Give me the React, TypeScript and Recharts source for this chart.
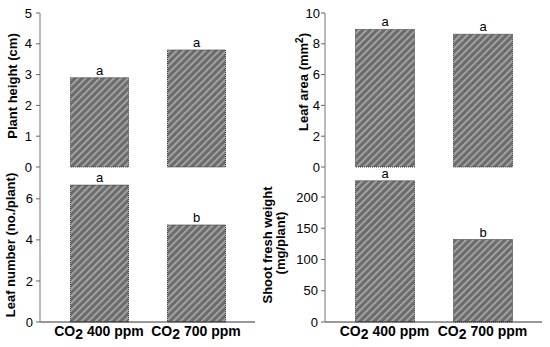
import { Bar, BarChart, LabelList, XAxis, YAxis } from "recharts";

const categories = ["CO2 400 ppm", "CO2 700 ppm"];
const plantHeight = [2.9, 3.8];
const leafArea = [8.93, 8.62];
const leafNumber = [6.67, 4.73];
const shootWeight = [226, 132];
const letterHeight = ["a", "a"];
const letterArea = ["a", "a"];
const letterNumber = ["a", "b"];
const letterWeight = ["a", "b"];

const heightTicks = [0, 1, 2, 3, 4, 5];
const areaTicks = [0, 2, 4, 6, 8, 10];
const numberTicks = [0, 2, 4, 6];
const weightTicks = [0, 50, 100, 150, 200];

const font = "'Liberation Sans', Arial, sans-serif";
const tickStyle = { fontSize: 13, fill: "#000", fontFamily: font };

function rows(values: number[], letters: string[]) {
  return categories.map((c, i) => ({ name: c, value: values[i], tag: letters[i] }));
}

function Hatch({ id }: { id: string }) {
  return (
    <defs>
      <pattern id={id} width="5" height="5" patternUnits="userSpaceOnUse" patternTransform="rotate(45)">
        <rect width="5" height="5" fill="#6c6c6c" />
        <rect width="1.7" height="5" fill="#aaaaaa" />
      </pattern>
    </defs>
  );
}

function CoTick(props: any) {
  const { x, y, payload } = props;
  const s: string = payload.value;
  return (
    <text x={x} y={y + 6} textAnchor="middle" fontFamily={font} fontWeight="bold" fontSize={14} fill="#000">
      <tspan>{s.slice(0, 2)}</tspan>
      <tspan dy={3}>{s.slice(2, 3)}</tspan>
      <tspan dy={-3}>{s.slice(3)}</tspan>
    </text>
  );
}

function Panel(props: {
  id: string;
  left: number;
  top: number;
  height: number;
  axisW: number;
  values: number[];
  letters: string[];
  ticks: number[];
  max: number;
  bottom: boolean;
  tickMargin: number;
  barSize: number;
}) {
  const data = rows(props.values, props.letters);
  return (
    <div style={{ position: "absolute", left: props.left, top: props.top }}>
      <BarChart
        width={275}
        height={props.height}
        data={data}
        margin={{ top: 13, right: props.left === 0 ? 20 : 8, bottom: props.bottom ? 0 : 8, left: 0 }}
      >
        <Hatch id={props.id} />
        <XAxis
          dataKey="name"
          xAxisId="top"
          orientation="top"
          height={0}
          tick={false}
          tickLine={false}
          padding={{ left: 10.5, right: 10.5 }}
          axisLine={props.bottom ? { stroke: "#333" } : { stroke: "#888" }}
        />
        <XAxis
          dataKey="name"
          height={props.bottom ? 25 : 0}
          tick={props.bottom ? <CoTick /> : false}
          tickLine={false}
          interval={0}
          padding={{ left: 10.5, right: 10.5 }}
          axisLine={{ stroke: "#333" }}
        />
        <YAxis
          width={props.axisW}
          domain={[0, props.max]}
          ticks={props.ticks}
          interval={0}
          tick={tickStyle}
          tickSize={4}
          tickMargin={props.tickMargin}
          tickLine={{ stroke: "#666" }}
          axisLine={{ stroke: "#777" }}
        />
        <YAxis
          yAxisId="r"
          orientation="right"
          width={0}
          domain={[0, props.max]}
          tick={false}
          tickLine={false}
          axisLine={{ stroke: "#888" }}
        />
        <Bar
          dataKey="value"
          barSize={props.barSize}
          fill={`url(#${props.id})`}
          stroke="#333"
          strokeDasharray="1 1"
          isAnimationActive={false}
        >
          <LabelList dataKey="tag" position="top" offset={3} style={{ fontSize: 13, fill: "#000", fontFamily: font }} />
        </Bar>
      </BarChart>
    </div>
  );
}

const titleStyle = { fontFamily: font, fontWeight: "bold" as const, fontSize: 13, fill: "#000" };

function Titles() {
  return (
    <svg width={550} height={347} style={{ position: "absolute", left: 0, top: 0, pointerEvents: "none" }}>
      <text x={17} y={86} transform="rotate(-90 17 86)" textAnchor="middle" {...titleStyle}>
        Plant height (cm)
      </text>
      <text x={308} y={82} transform="rotate(-90 308 82)" textAnchor="middle" {...titleStyle}>
        Leaf area (mm<tspan dy={-5} fontSize={10}>2</tspan>
        <tspan dy={5}>)</tspan>
      </text>
      <text x={15} y={245} transform="rotate(-90 15 245)" textAnchor="middle" {...titleStyle}>
        Leaf number (no./plant)
      </text>
      <text x={272} y={245} transform="rotate(-90 272 245)" textAnchor="middle" {...titleStyle}>
        Shoot fresh weight
      </text>
      <text x={285} y={243} transform="rotate(-90 285 243)" textAnchor="middle" {...titleStyle}>
        (mg/plant)
      </text>
    </svg>
  );
}

export default function App() {
  return (
    <div style={{ position: "absolute", left: 0, top: 0, width: 550, height: 347, background: "#fff" }}>
      <Panel
        id="h1"
        left={0}
        top={0}
        height={175}
        axisW={40}
        values={plantHeight}
        letters={letterHeight}
        ticks={heightTicks}
        max={5}
        bottom={false}
        tickMargin={4}
        barSize={58}
      />
      <Panel
        id="h2"
        left={275}
        top={0}
        height={175}
        axisW={50}
        values={leafArea}
        letters={letterArea}
        ticks={areaTicks}
        max={10}
        bottom={false}
        tickMargin={1}
        barSize={59}
      />
      <Panel
        id="h3"
        left={0}
        top={154}
        height={193}
        axisW={40}
        values={leafNumber}
        letters={letterNumber}
        ticks={numberTicks}
        max={7.55}
        bottom={true}
        tickMargin={3}
        barSize={58}
      />
      <Panel
        id="h4"
        left={275}
        top={154}
        height={193}
        axisW={50}
        values={shootWeight}
        letters={letterWeight}
        ticks={weightTicks}
        max={248}
        bottom={true}
        tickMargin={3}
        barSize={59}
      />
      <Titles />
    </div>
  );
}
